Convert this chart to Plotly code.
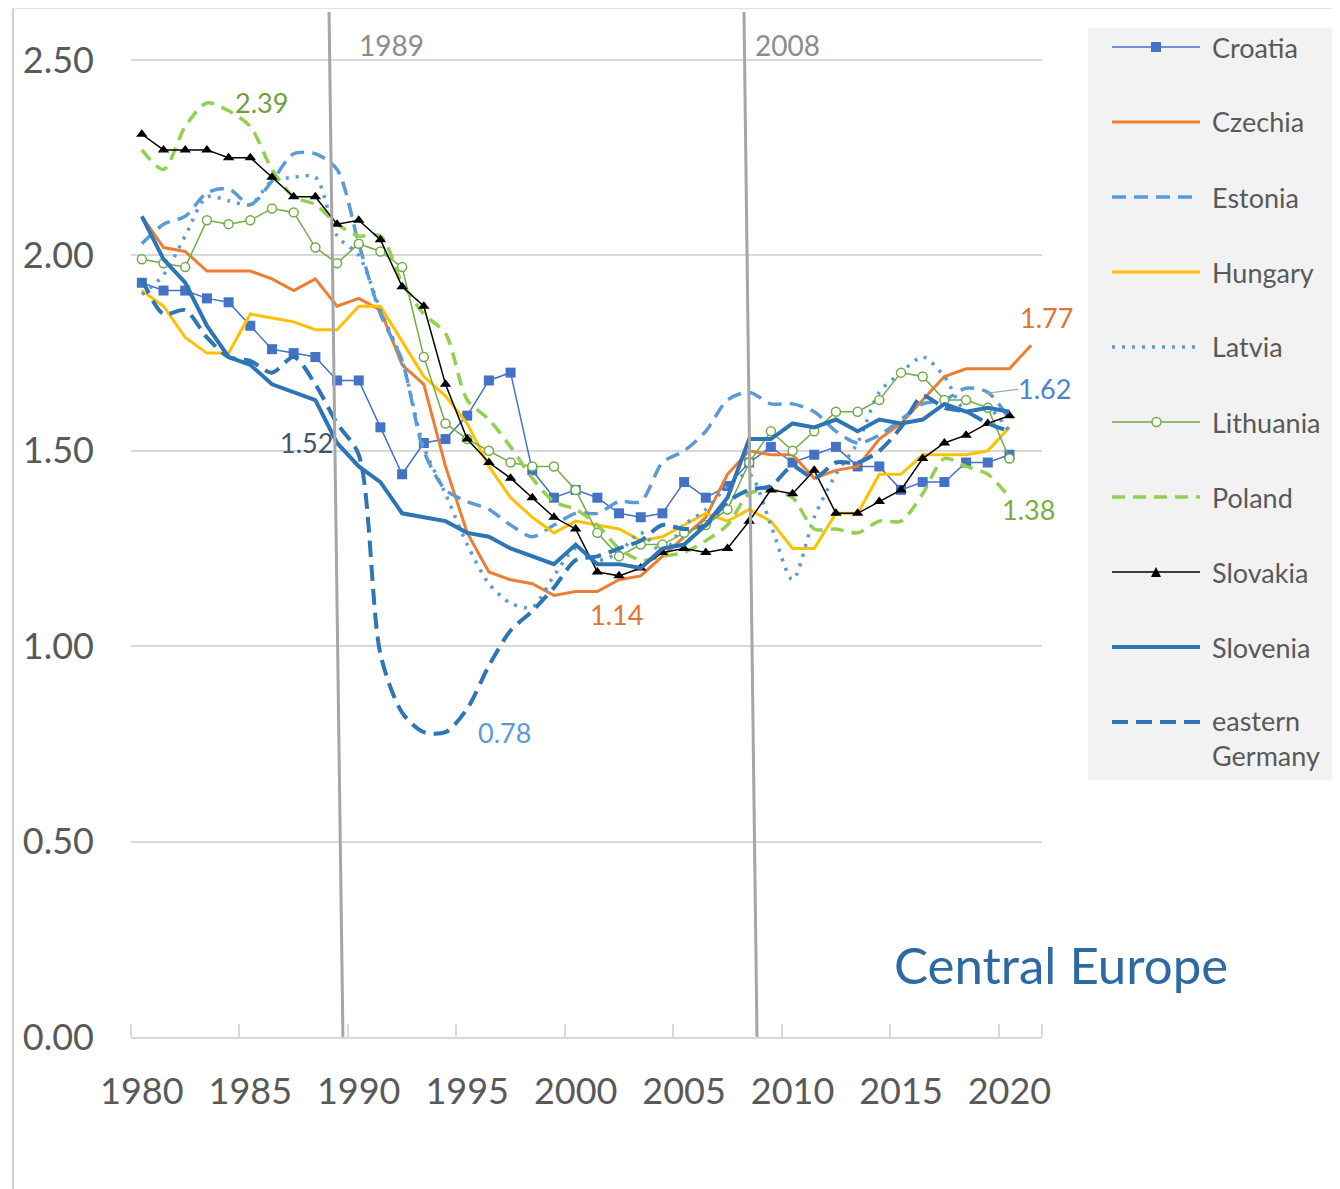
import plotly.graph_objects as go

# ---------------- data ----------------
years = list(range(1980, 2022))

croatia = [1.93, 1.91, 1.91, 1.89, 1.88, 1.82, 1.76, 1.75, 1.74, 1.68,
           1.68, 1.56, 1.44, 1.52, 1.53, 1.59, 1.68, 1.70, 1.45, 1.38,
           1.40, 1.38, 1.34, 1.33, 1.34, 1.42, 1.38, 1.41, 1.47, 1.51,
           1.47, 1.49, 1.51, 1.46, 1.46, 1.40, 1.42, 1.42, 1.47, 1.47,
           1.49]
czechia = [2.10, 2.02, 2.01, 1.96, 1.96, 1.96, 1.94, 1.91, 1.94, 1.87,
           1.89, 1.86, 1.72, 1.67, 1.46, 1.29, 1.19, 1.17, 1.16, 1.13,
           1.14, 1.14, 1.17, 1.18, 1.23, 1.28, 1.33, 1.44, 1.50, 1.49,
           1.49, 1.43, 1.45, 1.46, 1.53, 1.57, 1.63, 1.69, 1.71, 1.71,
           1.71, 1.77]
estonia = [2.03, 2.08, 2.10, 2.16, 2.17, 2.13, 2.19, 2.26, 2.26, 2.22,
           2.03, 1.85, 1.73, 1.50, 1.40, 1.37, 1.35, 1.31, 1.28, 1.31,
           1.34, 1.34, 1.37, 1.37, 1.47, 1.50, 1.55, 1.63, 1.65, 1.62,
           1.62, 1.60, 1.55, 1.52, 1.54, 1.58, 1.62, 1.63, 1.66, 1.65,
           1.58]
hungary = [1.91, 1.87, 1.79, 1.75, 1.75, 1.85, 1.84, 1.83, 1.81, 1.81,
           1.87, 1.87, 1.78, 1.69, 1.64, 1.57, 1.46, 1.38, 1.33, 1.29,
           1.32, 1.31, 1.30, 1.27, 1.28, 1.31, 1.34, 1.32, 1.35, 1.32,
           1.25, 1.25, 1.34, 1.34, 1.44, 1.44, 1.49, 1.49, 1.49, 1.50,
           1.56]
latvia = [1.90, 1.95, 2.05, 2.15, 2.14, 2.13, 2.19, 2.20, 2.20, 2.05,
          2.00, 1.86, 1.73, 1.51, 1.39, 1.26, 1.16, 1.11, 1.10, 1.18,
          1.25, 1.22, 1.24, 1.29, 1.24, 1.31, 1.35, 1.41, 1.44, 1.31,
          1.17, 1.33, 1.44, 1.52, 1.65, 1.70, 1.74, 1.69, 1.60, 1.61,
          1.55]
lithuania = [1.99, 1.98, 1.97, 2.09, 2.08, 2.09, 2.12, 2.11, 2.02, 1.98,
             2.03, 2.01, 1.97, 1.74, 1.57, 1.53, 1.50, 1.47, 1.46, 1.46,
             1.40, 1.29, 1.23, 1.26, 1.26, 1.29, 1.31, 1.35, 1.47, 1.55,
             1.50, 1.55, 1.60, 1.60, 1.63, 1.70, 1.69, 1.63, 1.63, 1.61,
             1.48]
poland = [2.27, 2.22, 2.33, 2.39, 2.37, 2.33, 2.22, 2.15, 2.13, 2.08,
          2.05, 2.05, 1.93, 1.85, 1.80, 1.63, 1.58, 1.51, 1.43, 1.37,
          1.35, 1.31, 1.25, 1.22, 1.23, 1.24, 1.27, 1.31, 1.39, 1.40,
          1.38, 1.30, 1.30, 1.29, 1.32, 1.32, 1.39, 1.48, 1.46, 1.44,
          1.38]
slovakia = [2.31, 2.27, 2.27, 2.27, 2.25, 2.25, 2.20, 2.15, 2.15, 2.08,
            2.09, 2.04, 1.92, 1.87, 1.67, 1.53, 1.47, 1.43, 1.38, 1.33,
            1.30, 1.19, 1.18, 1.20, 1.24, 1.25, 1.24, 1.25, 1.32, 1.40,
            1.39, 1.45, 1.34, 1.34, 1.37, 1.40, 1.48, 1.52, 1.54, 1.57,
            1.59]
slovenia = [2.10, 1.99, 1.93, 1.82, 1.74, 1.72, 1.67, 1.65, 1.63, 1.52,
            1.46, 1.42, 1.34, 1.33, 1.32, 1.29, 1.28, 1.25, 1.23, 1.21,
            1.26, 1.21, 1.21, 1.20, 1.25, 1.26, 1.31, 1.38, 1.53, 1.53,
            1.57, 1.56, 1.58, 1.55, 1.58, 1.57, 1.58, 1.62, 1.60, 1.61,
            1.60]
east_germany = [1.94, 1.85, 1.86, 1.79, 1.74, 1.73, 1.70, 1.74, 1.67, 1.57,
                1.49, 0.98, 0.83, 0.78, 0.78, 0.84, 0.95, 1.04, 1.09, 1.15,
                1.22, 1.23, 1.25, 1.27, 1.31, 1.30, 1.31, 1.37, 1.40, 1.41,
                1.46, 1.43, 1.47, 1.47, 1.50, 1.56, 1.64, 1.61, 1.60, 1.57,
                1.55]

y_ticks = [0.0, 0.5, 1.0, 1.5, 2.0, 2.5]
x_ticks = [1980, 1985, 1990, 1995, 2000, 2005, 2010, 2015, 2020]
event_years = [1989, 2008]

# value labels: (text, year position, value position, colour)
value_labels = [("2.39", 1985.5, 2.39, "#6E9F3C"),
                ("1.52", 1987.6, 1.52, "#44546A"),
                ("0.78", 1996.7, 0.78, "#5B9BD5"),
                ("1.14", 2001.9, 1.08, "#E0762E"),
                ("1.77", 2021.7, 1.84, "#E0762E"),
                ("1.62", 2021.6, 1.66, "#4A86C8"),
                ("1.38", 2020.9, 1.35, "#7AAE3F")]

# ---------------- styles ----------------
series = [
    ("Croatia", croatia, "#4472C4", 1.5, "solid", "square", False),
    ("Czechia", czechia, "#ED7D31", 3.0, "solid", None, False),
    ("Estonia", estonia, "#5B9BD5", 3.5, "14px,8px", None, True),
    ("Hungary", hungary, "#FFC000", 3.0, "solid", None, False),
    ("Latvia", latvia, "#5B9BD5", 3.5, "3px,7px", None, True),
    ("Lithuania", lithuania, "#70AD47", 1.5, "solid", "circle-open", False),
    ("Poland", poland, "#92D050", 3.5, "13px,8px", None, True),
    ("Slovakia", slovakia, "#000000", 1.5, "solid", "triangle-up", False),
    ("Slovenia", slovenia, "#2E75B6", 4.0, "solid", None, False),
    ("eastern<br>Germany", east_germany, "#2E75B6", 4.0, "16px,8px", None, True),
]

FONT = "Lato"
OFF = 8                       # page body margin of the viewer
REF_L, REF_B = 131, 1037      # plot-area left / bottom in picture pixels
W, H = 911, 1025
L, T = REF_L - OFF, 12 - OFF
FIG_W, FIG_H = 1340 - OFF, 1189 - OFF
PX_PER_UNIT = 390.8
Y_TOP = H / PX_PER_UNIT
X_MIN, X_MAX = 1979.5, 2021.5


def px(x):
    return (x - REF_L) / W


def py(y):
    return (REF_B - y) / H


def paper_x(year):
    return (year - X_MIN) / (X_MAX - X_MIN)


def paper_y(val):
    return val / Y_TOP


fig = go.Figure()

for name, vals, color, width, dash, marker, smooth in series:
    mk = dict(size=0)
    mode = "lines"
    if marker == "square":
        mode = "lines+markers"
        mk = dict(symbol="square", size=10, color=color)
    elif marker == "circle-open":
        mode = "lines+markers"
        mk = dict(symbol="circle", size=9, color="white",
                  line=dict(color=color, width=1.5))
    elif marker == "triangle-up":
        mode = "lines+markers"
        mk = dict(symbol="triangle-up", size=10, color=color)
    fig.add_trace(go.Scatter(
        x=years[:len(vals)], y=vals, mode=mode, name=name.replace("<br>", " "),
        line=dict(color=color, width=width, dash=dash,
                  shape="spline" if smooth else "linear", smoothing=0.8),
        marker=mk, showlegend=False, hoverinfo="skip"))

shapes = []
# event lines (slightly slanted as in the reference)
slants = {1989: (-0.37, 0.27), 2008: (-0.24, 0.36)}
for ev in event_years:
    a, b = slants[ev]
    shapes.append(dict(type="line", xref="x", yref="y", x0=ev + a, x1=ev + b,
                       y0=Y_TOP, y1=0, line=dict(color="#A6A6A6", width=3),
                       layer="above"))

# frame lines of the original picture
shapes.append(dict(type="line", xref="paper", yref="paper", x0=px(13), x1=px(13),
                   y0=py(8), y1=py(1195), line=dict(color="#D0D0D0", width=2)))
shapes.append(dict(type="line", xref="paper", yref="paper", x0=px(13), x1=px(1345),
                   y0=py(8), y1=py(8), line=dict(color="#E3E3E3", width=2)))

# legend background
shapes.append(dict(type="rect", xref="paper", yref="paper", x0=px(1088), x1=px(1345),
                   y0=py(780), y1=py(28), fillcolor="#F2F2F2", line=dict(width=0),
                   layer="below"))

annotations = []
for i, (name, vals, color, width, dash, marker, smooth) in enumerate(series):
    yc = 47 + 75 * i
    shapes.append(dict(type="line", xref="paper", yref="paper", x0=px(1112), x1=px(1200),
                       y0=py(yc), y1=py(yc), line=dict(color=color, width=width, dash=dash)))
    if marker == "square":
        shapes.append(dict(type="rect", xref="paper", yref="paper",
                           x0=px(1151), x1=px(1161), y0=py(yc + 5), y1=py(yc - 5),
                           fillcolor=color, line=dict(width=0)))
    elif marker == "circle-open":
        shapes.append(dict(type="circle", xref="paper", yref="paper",
                           x0=px(1152), x1=px(1161), y0=py(yc + 4.5), y1=py(yc - 4.5),
                           fillcolor="white", line=dict(color=color, width=1.5)))
    elif marker == "triangle-up":
        path = "M {} {} L {} {} L {} {} Z".format(px(1151), py(yc + 5), px(1161), py(yc + 5),
                                                 px(1156), py(yc - 5))
        shapes.append(dict(type="path", xref="paper", yref="paper", path=path,
                           fillcolor=color, line=dict(width=0)))
    if "<br>" in name:
        annotations.append(dict(xref="paper", yref="paper", x=px(1210), y=py(yc - 20),
                                xanchor="left", yanchor="top", align="left",
                                text=name, showarrow=False,
                                font=dict(family=FONT, size=27, color="#595959")))
    else:
        annotations.append(dict(xref="paper", yref="paper", x=px(1210), y=py(yc),
                                xanchor="left", yanchor="middle", text=name,
                                showarrow=False,
                                font=dict(family=FONT, size=27, color="#595959")))

for txt, xv, yv, col in value_labels:
    annotations.append(dict(xref="paper", yref="paper", x=paper_x(xv), y=paper_y(yv),
                            text=txt, showarrow=False,
                            xanchor="center", yanchor="middle",
                            font=dict(family=FONT, size=27, color=col)))

# leader line for 1.62
shapes.append(dict(type="line", xref="x", yref="y", x0=2018.9, x1=2020.4,
                   y0=1.647, y1=1.657, line=dict(color="#A6A6A6", width=1.2)))

event_label_px = {1989: 357, 2008: 753}
for ev in event_years:
    annotations.append(dict(xref="paper", yref="paper", x=px(event_label_px[ev]), y=py(45),
                            text=str(ev), showarrow=False, xanchor="left",
                            yanchor="middle",
                            font=dict(family=FONT, size=28, color="#8C8C8C")))

annotations.append(dict(xref="paper", yref="paper", x=px(1061), y=py(965),
                        text="Central Europe", showarrow=False, xanchor="center",
                        yanchor="middle",
                        font=dict(family=FONT, size=51, color="#2E69A3")))

fig.update_layout(
    width=FIG_W, height=FIG_H,
    margin=dict(l=L, r=FIG_W - L - W, t=T, b=FIG_H - T - H, autoexpand=False),
    paper_bgcolor="white", plot_bgcolor="white",
    font=dict(family=FONT, color="#595959"),
    shapes=shapes, annotations=annotations,
    xaxis=dict(range=[X_MIN, X_MAX], tickvals=x_ticks, ticktext=[str(v) for v in x_ticks],
               ticks="", showgrid=False, zeroline=False,
               showline=True, linecolor="#D9D9D9", linewidth=1.5,
               tickfont=dict(family=FONT, size=36, color="#595959"),
               ticklabelstandoff=22,
               minor=dict(tickvals=[X_MIN + 5 * k for k in range(9)] + [X_MAX],
                          ticks="inside", ticklen=13, tickcolor="#D9D9D9", tickwidth=1.5,
                          showgrid=False),
               automargin=False),
    yaxis=dict(range=[0, Y_TOP], tickvals=y_ticks, tickformat=".2f", ticks="",
               showgrid=True, gridcolor="#D9D9D9", gridwidth=1.5, zeroline=False,
               showline=False,
               tickfont=dict(family=FONT, size=36, color="#595959"),
               ticklabelstandoff=36, automargin=False),
)

fig.write_html("out.html")
